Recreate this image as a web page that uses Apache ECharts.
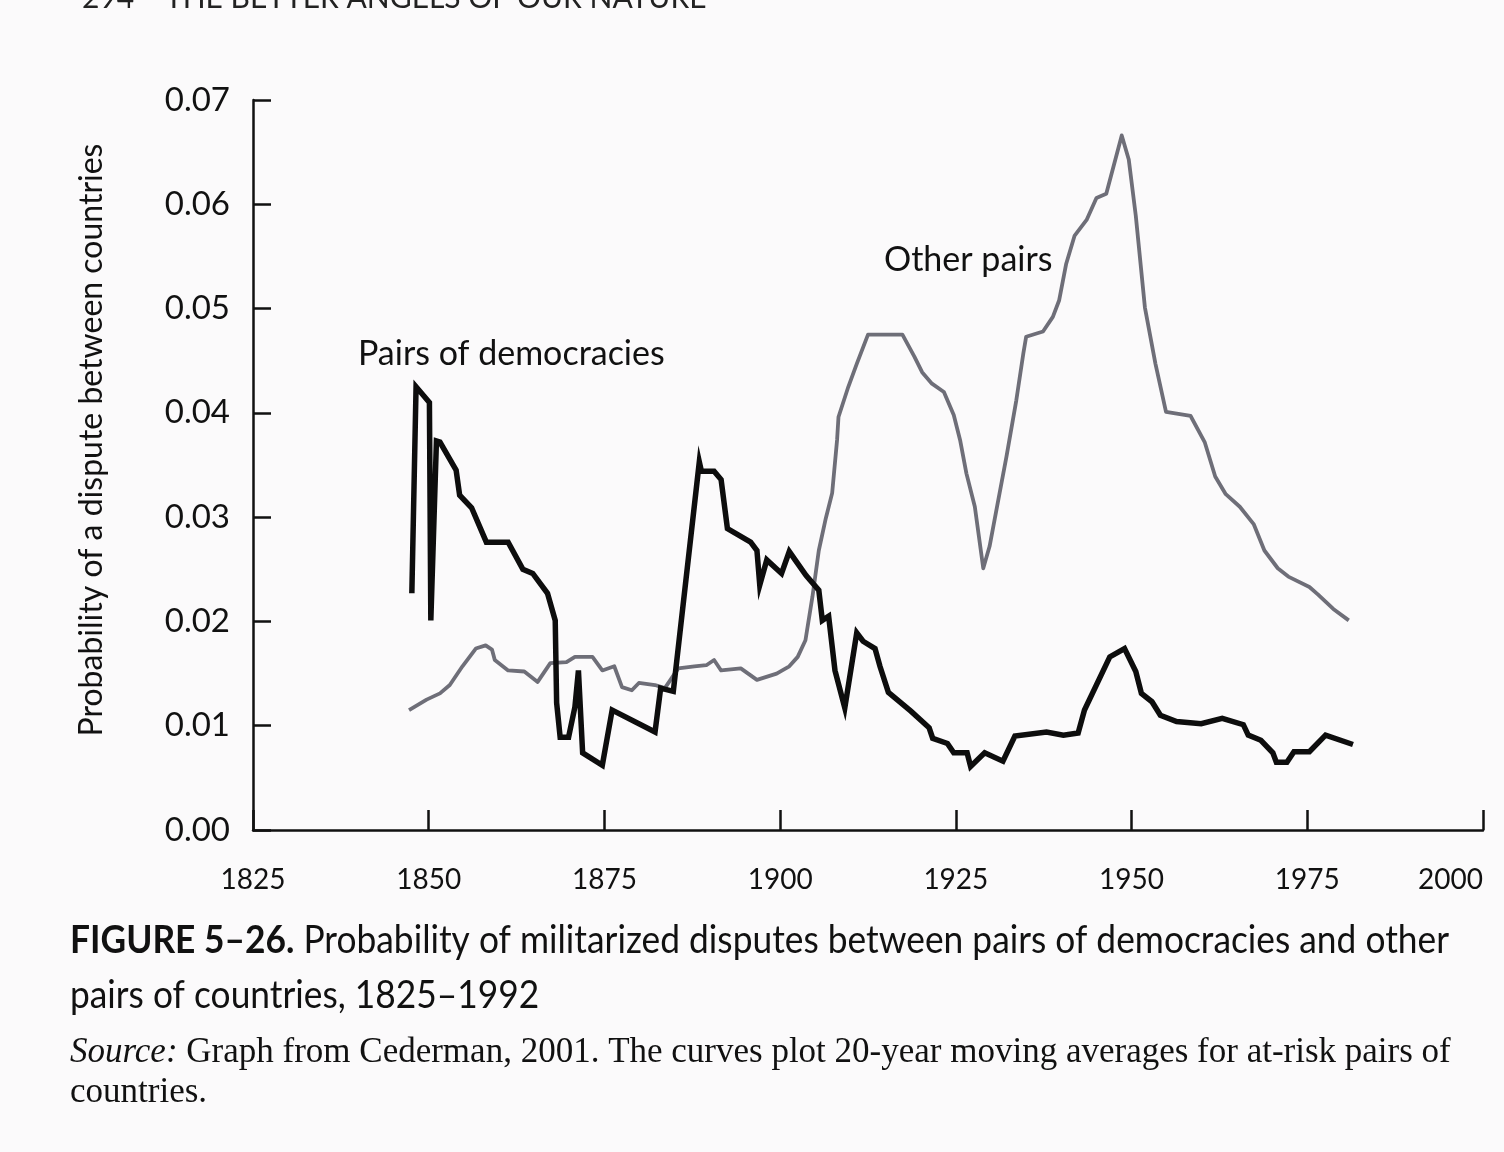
<!DOCTYPE html>
<html>
<head>
<meta charset="utf-8">
<script src="https://cdn.jsdelivr.net/npm/echarts@6/dist/echarts.min.js"></script>
<style>
  html, body { margin: 0; padding: 0; background: #fbfafb; }
  #chart { width: 1504px; height: 1152px; }
</style>
</head>
<body>
<div id="chart"></div>
<script>
// ---- Data ----
var xTickLabels = ['1825', '1850', '1875', '1900', '1925', '1950', '1975', '2000'];
var yTickLabels = ['0.00', '0.01', '0.02', '0.03', '0.04', '0.05', '0.06', '0.07'];

// Pairs of democracies (black line)
var democracyYears = [
  1847.6, 1848.2, 1850.1, 1850.3, 1851.1, 1851.6, 1853.9, 1854.4, 1856.1, 1858.2,
  1861.3, 1863.4, 1864.8, 1866.9, 1868.0, 1868.2, 1868.7, 1869.9, 1870.8, 1871.3,
  1871.9, 1874.7, 1876.1, 1882.2, 1883.0, 1884.8, 1888.5, 1888.8, 1890.6, 1891.6,
  1892.5, 1895.8, 1896.7, 1897.1, 1898.1, 1900.2, 1901.3, 1903.7, 1905.5, 1906.0,
  1906.9, 1907.8, 1909.2, 1910.9, 1911.8, 1913.5, 1914.2, 1915.4, 1918.6, 1921.2,
  1921.7, 1923.8, 1924.7, 1926.6, 1927.1, 1929.1, 1931.7, 1933.4, 1937.9, 1940.3,
  1942.4, 1943.3, 1946.9, 1949.0, 1950.6, 1951.4, 1952.9, 1954.1, 1956.4, 1959.9,
  1962.9, 1965.9, 1966.6, 1968.4, 1970.1, 1970.6, 1972.1, 1973.1, 1975.3, 1977.6,
  1981.5
];
var democracyValues = [
  0.0227, 0.0425, 0.0410, 0.0201, 0.0373, 0.0372, 0.0345, 0.0321, 0.0309, 0.0276,
  0.0276, 0.0250, 0.0246, 0.0227, 0.0201, 0.0122, 0.0089, 0.0089, 0.0118, 0.0153,
  0.0074, 0.0062, 0.0115, 0.0094, 0.0136, 0.0133, 0.0353, 0.0344, 0.0344, 0.0336,
  0.0289, 0.0276, 0.0268, 0.0235, 0.0259, 0.0246, 0.0267, 0.0244, 0.0230, 0.0201,
  0.0205, 0.0153, 0.0117, 0.0189, 0.0181, 0.0174, 0.0157, 0.0132, 0.0114, 0.0098,
  0.0088, 0.0083, 0.0074, 0.0074, 0.0061, 0.0074, 0.0066, 0.0090, 0.0094, 0.0091,
  0.0093, 0.0115, 0.0166, 0.0174, 0.0152, 0.0131, 0.0123, 0.0110, 0.0104, 0.0102,
  0.0107, 0.0101, 0.0091, 0.0086, 0.0074, 0.0065, 0.0065, 0.0075, 0.0075, 0.0091,
  0.0082
];

// Other pairs (grey line)
var otherYears = [
  1847.2, 1849.7, 1851.6, 1853.0, 1854.8, 1856.7, 1858.1, 1859.0, 1859.4, 1861.3,
  1863.6, 1865.5, 1867.3, 1869.6, 1870.8, 1873.3, 1874.7, 1876.4, 1877.5, 1878.9,
  1879.9, 1882.2, 1883.6, 1885.5, 1887.8, 1889.5, 1890.6, 1891.6, 1894.4, 1896.7,
  1899.5, 1901.3, 1902.5, 1903.6, 1904.6, 1905.5, 1906.5, 1907.4, 1908.1, 1908.3,
  1909.7, 1910.9, 1912.5, 1917.4, 1919.1, 1920.2, 1921.6, 1923.3, 1924.7, 1925.6,
  1926.5, 1927.7, 1928.9, 1929.8, 1930.8, 1932.2, 1933.6, 1934.6, 1935.0, 1937.4,
  1938.8, 1939.7, 1940.7, 1941.9, 1943.6, 1945.0, 1946.4, 1948.6, 1949.6, 1950.6,
  1951.9, 1953.4, 1954.9, 1958.4, 1960.4, 1961.9, 1963.4, 1965.4, 1967.4, 1968.9,
  1970.8, 1972.3, 1975.3, 1976.5, 1978.7, 1980.9
];
var otherValues = [
  0.0115, 0.0125, 0.0131, 0.0139, 0.0157, 0.0174, 0.0177, 0.0173, 0.0163, 0.0153,
  0.0152, 0.0142, 0.0160, 0.0161, 0.0166, 0.0166, 0.0153, 0.0157, 0.0137, 0.0134,
  0.0141, 0.0139, 0.0136, 0.0155, 0.0157, 0.0158, 0.0163, 0.0153, 0.0155, 0.0144,
  0.0150, 0.0157, 0.0166, 0.0182, 0.0224, 0.0268, 0.0299, 0.0323, 0.0374, 0.0396,
  0.0425, 0.0447, 0.0475, 0.0475, 0.0454, 0.0439, 0.0428, 0.0420, 0.0398, 0.0374,
  0.0342, 0.0310, 0.0251, 0.0272, 0.0308, 0.0358, 0.0412, 0.0457, 0.0473, 0.0478,
  0.0492, 0.0508, 0.0543, 0.0570, 0.0585, 0.0606, 0.0610, 0.0666, 0.0643, 0.0589,
  0.0501, 0.0447, 0.0401, 0.0397, 0.0372, 0.0339, 0.0322, 0.0310, 0.0293, 0.0268,
  0.0251, 0.0243, 0.0233, 0.0226, 0.0212, 0.0201
];

function pairs(xs, ys) {
  var out = [];
  for (var i = 0; i < xs.length; i++) out.push([xs[i], ys[i]]);
  return out;
}

var chart = echarts.init(document.getElementById('chart'), null, { renderer: 'canvas' });
var labelFont = 'Lato, "Open Sans", sans-serif';
var serifFont = '"Liberation Serif", "DejaVu Serif", serif';

chart.setOption({
  backgroundColor: '#fbfafb',
  animation: false,
  grid: { left: 253, right: 21, top: 100, bottom: 322, containLabel: false },
  xAxis: {
    type: 'value',
    min: 1825, max: 2000, interval: 25,
    axisLine: { show: true, lineStyle: { color: '#111', width: 2.5 } },
    axisTick: { show: true, inside: true, length: 20, lineStyle: { color: '#111', width: 2.5 } },
    axisLabel: {
      margin: 36, fontSize: 28, color: '#111', fontFamily: labelFont,
      alignMaxLabel: 'right',
      formatter: function (v) { return xTickLabels[Math.round((v - 1825) / 25)]; }
    },
    splitLine: { show: false }
  },
  yAxis: {
    type: 'value',
    min: 0, max: 0.07, interval: 0.01,
    axisLine: { show: true, lineStyle: { color: '#111', width: 2.5 } },
    axisTick: { show: true, inside: true, length: 18, lineStyle: { color: '#111', width: 2.5 } },
    axisLabel: {
      margin: 23, fontSize: 33, color: '#111', fontFamily: labelFont,
      formatter: function (v) { return yTickLabels[Math.round(v * 100)]; }
    },
    splitLine: { show: false }
  },
  series: [
    {
      name: 'Other pairs', type: 'line', showSymbol: false,
      lineStyle: { color: '#6e6e78', width: 3.8, join: 'round' },
      data: pairs(otherYears, otherValues), z: 2
    },
    {
      name: 'Pairs of democracies', type: 'line', showSymbol: false,
      lineStyle: { color: '#0d0d0d', width: 5.5, join: 'miter' },
      data: pairs(democracyYears, democracyValues), z: 3
    }
  ],
  graphic: [
    { type: 'text', left: 82, top: -17,
      style: { text: '294    THE BETTER ANGELS OF OUR NATURE', fontSize: 30, fill: '#222',
               fontFamily: labelFont } },
    { type: 'text', x: 92, y: 440, rotation: Math.PI / 2,
      style: { text: 'Probability of a dispute between countries', fontSize: 32, fill: '#111',
               fontFamily: labelFont, align: 'center', verticalAlign: 'middle' } },
    { type: 'text', left: 358, top: 337,
      style: { text: 'Pairs of democracies', fontSize: 34, fill: '#111', fontFamily: labelFont } },
    { type: 'text', left: 884, top: 243,
      style: { text: 'Other pairs', fontSize: 34, fill: '#111', fontFamily: labelFont } },
    { type: 'text', x: 70, y: 922, scaleX: 0.93,
      style: {
        text: '{b|FIGURE 5–26.} Probability of militarized disputes between pairs of democracies and other',
        fontSize: 38, fill: '#111', fontFamily: labelFont,
        rich: { b: { fontWeight: 'bold', fontSize: 38, fontFamily: labelFont, fill: '#111' } }
      } },
    { type: 'text', x: 70, y: 977, scaleX: 0.93,
      style: { text: 'pairs of countries, 1825–1992', fontSize: 38, fill: '#111', fontFamily: labelFont } },
    { type: 'text', x: 70, y: 1035,
      style: {
        text: '{i|Source:} Graph from Cederman, 2001. The curves plot 20-year moving averages for at-risk pairs of',
        fontSize: 35, fill: '#111', fontFamily: serifFont,
        rich: { i: { fontStyle: 'italic', fontSize: 35, fontFamily: serifFont, fill: '#111' } }
      } },
    { type: 'text', x: 70, y: 1075,
      style: { text: 'countries.', fontSize: 35, fill: '#111', fontFamily: serifFont } }
  ]
});
</script>
</body>
</html>
